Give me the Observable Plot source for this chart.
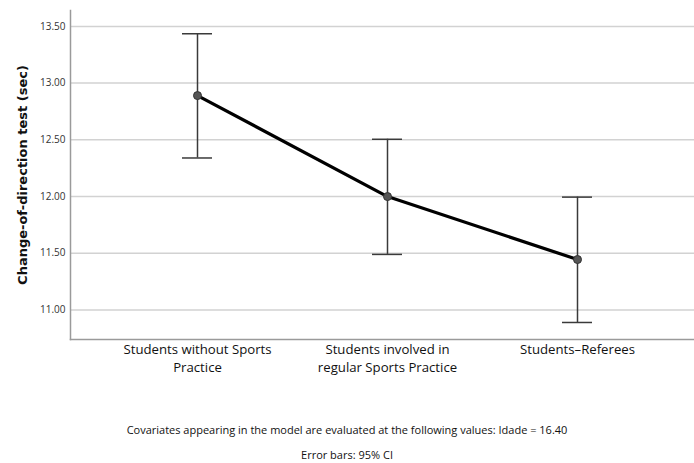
<!DOCTYPE html>
<html>
<head>
<meta charset="utf-8">
<script src="https://cdn.jsdelivr.net/npm/d3@7"></script>
<script src="https://cdn.jsdelivr.net/npm/@observablehq/plot@0.6"></script>
<style>
  html, body { margin: 0; padding: 0; background: #fff; }
  #chart svg { display: block; }
  .cap { width: 694px; text-align: center; font-family: "Open Sans", sans-serif; font-size: 11px; color: #111; }
</style>
</head>
<body>
<div id="chart"></div>
<div class="cap" style="margin-top:32px;">Covariates appearing in the model are evaluated at the following values: Idade = 16.40</div>
<div class="cap" style="margin-top:10px;">Error bars: 95% CI</div>
<script>
const groups = ["Students without Sports Practice", "Students involved in regular Sports Practice", "Students-Referees"];
const tickLine1 = ["Students without Sports", "Students involved in", "Students–Referees"];
const tickLine2 = ["Practice", "regular Sports Practice", ""];
const means = [12.89, 12.00, 11.445];
const lower = [12.34, 11.49, 10.89];
const upper = [13.435, 12.505, 11.995];
const yTicks = [11.0, 11.5, 12.0, 12.5, 13.0, 13.5];

const data = groups.map((g, i) => ({group: g, mean: means[i], lo: lower[i], hi: upper[i]}));
const line1Of = new Map(groups.map((g, i) => [g, tickLine1[i]]));
const line2Of = new Map(groups.map((g, i) => [g, tickLine2[i]]));

const plot = Plot.plot({
  width: 694,
  height: 390,
  marginTop: 10,
  marginBottom: 51,
  marginLeft: 70,
  marginRight: 0,
  style: {fontFamily: "Open Sans, sans-serif", background: "#fff"},
  x: {type: "point", domain: groups, range: [197, 577], padding: 0},
  y: {domain: [10.74, 13.64]},
  marks: [
    Plot.ruleY(yTicks, {stroke: "#d2d2d2", strokeWidth: 1.5}),
    Plot.frame({anchor: "left", stroke: "#9a9a9a", strokeWidth: 1.5}),
    Plot.frame({anchor: "bottom", stroke: "#9a9a9a", strokeWidth: 1.5}),
    Plot.axisY({ticks: yTicks, tickSize: 0, tickPadding: 5, tickFormat: d => d.toFixed(2), fontSize: 10, color: "#333",
      label: "Change-of-direction test (sec)", labelAnchor: "center", labelArrow: "none", labelOffset: 53}),
    Plot.axisX({tickSize: 0, tickPadding: 5, tickFormat: d => line1Of.get(d), fontSize: 13.2, color: "#111", label: null}),
    Plot.axisX({tickSize: 0, tickPadding: 23, tickFormat: d => line2Of.get(d), fontSize: 13.2, color: "#111", label: null}),
    Plot.ruleX(data, {x: "group", y1: "lo", y2: "hi", stroke: "#3a3a3a", strokeWidth: 1.5}),
    Plot.ruleY(data, {x1: "group", x2: "group", y: "hi", stroke: "#3a3a3a", strokeWidth: 1.5, insetLeft: -15, insetRight: -15}),
    Plot.ruleY(data, {x1: "group", x2: "group", y: "lo", stroke: "#3a3a3a", strokeWidth: 1.5, insetLeft: -15, insetRight: -15}),
    Plot.line(data, {x: "group", y: "mean", stroke: "#000", strokeWidth: 3.2}),
    Plot.dot(data, {x: "group", y: "mean", r: 4, fill: "#555", stroke: "#333", strokeWidth: 1})
  ]
});
document.getElementById("chart").append(plot);
d3.select(plot).selectAll("[aria-label='y-axis label'] text")
  .style("font-weight", "bold").style("font-size", "13px").style("font-family", "DejaVu Sans, sans-serif").style("fill", "#111");
</script>
</body>
</html>
